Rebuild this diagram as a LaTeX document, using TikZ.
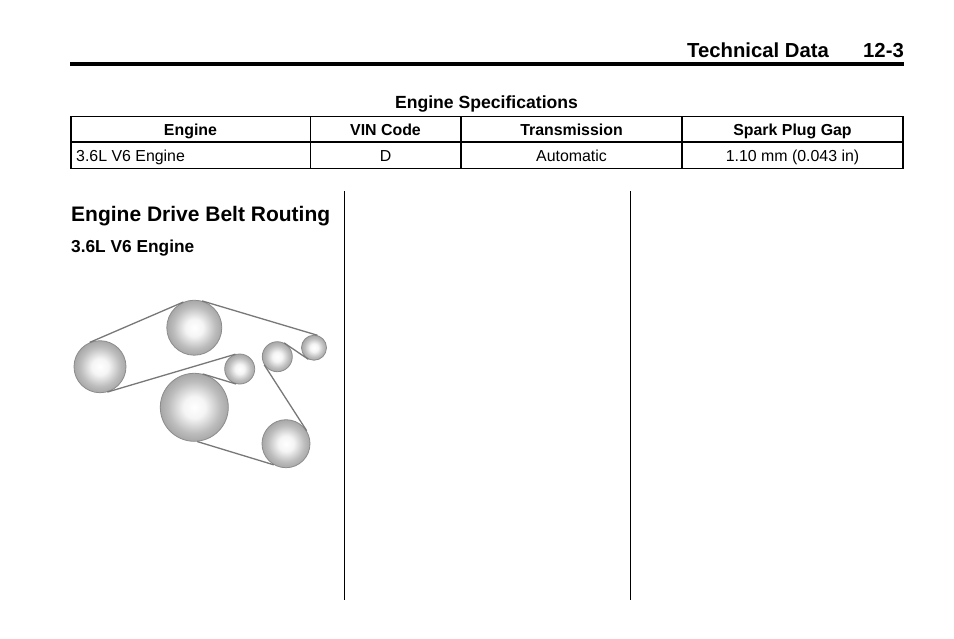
\documentclass[tikz,border=0pt]{standalone}
\usepackage{fontspec}
\setmainfont{Liberation Sans}
\usepackage{tikz}
\usetikzlibrary{positioning}
\definecolor{beltgray}{rgb}{0.47,0.47,0.47}
\pgfdeclareradialshading{pulleyshade}{\pgfpointorigin}{
  color(0bp)=(white); color(8bp)=(white!96!black); color(19bp)=(white!74!black);
  color(29bp)=(white!60!black); color(35.4bp)=(white!50!black); color(100bp)=(white!50!black)}
\tikzset{
  pulley/.style={circle, draw=white!55!black, line width=0.8pt, inner sep=0pt,
    minimum size=#1, shading=pulleyshade},
  belt/.style={draw=beltgray, line width=1.3pt},
  cell/.style={inner sep=0pt, font=\fontsize{15.9}{18}\selectfont, anchor=base},
  cellhead/.style={cell, font=\fontsize{15.9}{18}\selectfont\bfseries},
}

\begin{document}
\begin{tikzpicture}[x=1pt, y=-1pt]
  \path[use as bounding box, fill=white] (0, 0) rectangle (954, 638);

  % running head
  \node[inner sep=0pt, anchor=base west, font=\fontsize{20.3}{24}\selectfont\bfseries] (headtitle) at (687, 57.5) {Technical Data};
  \node[inner sep=0pt, anchor=base east, font=\fontsize{20.3}{24}\selectfont\bfseries] (headpage) at (904, 57.5) {12-3};
  \fill (70, 62) rectangle (904, 66);

  % spec table
  \node[cell, font=\fontsize{17.6}{20}\selectfont\bfseries] (tabletitle) at (486.5, 108) {Engine Specifications};
  \draw[line width=1.8pt] (71, 116.5) rectangle (903, 168.5);
  \draw[line width=1.8pt] (71, 142) -- (903, 142);
  \foreach \i in {310.5, 461, 682}
  \draw[line width=1.8pt] (\i, 116.5) -- (\i, 168.5);

  \node[cellhead] (headengine) at (190.5, 135) {Engine};
  \node[cellhead] (headvin) at (385.5, 135) {VIN Code};
  \node[cellhead] (headtrans) at (571.5, 135) {Transmission};
  \node[cellhead] (headgap) at (792.5, 135) {Spark Plug Gap};
  \node[cell, anchor=base west] (rowengine) at (76, 161) {3.6L V6 Engine};
  \node[cell] (rowvin) at (385.5, 161) {D};
  \node[cell] (rowtrans) at (571.5, 161) {Automatic};
  \node[cell] (rowgap) at (792.5, 161) {1.10 mm (0.043 in)};

  % page columns
  \draw[line width=1pt] (344.7, 191) -- (344.7, 600);
  \draw[line width=1pt] (630.5, 191) -- (630.5, 600);

  \node[inner sep=0pt, anchor=base west, font=\fontsize{21}{25}\selectfont\bfseries] (sectitle) at (71, 221) {Engine Drive Belt Routing};
  \node[inner sep=0pt, anchor=base west, font=\fontsize{17.3}{20}\selectfont\bfseries] (subtitle) at (71, 252) {3.6L V6 Engine};

  % pulleys
  \node[pulley=52pt] (crank) at (100, 366.7) {};
  \node[pulley=55pt] (alt) at (194.3, 327.7) {};
  \node[pulley=30pt] (idler) at (239.7, 369) {};
  \node[pulley=68pt] (steer) at (194.3, 407.3) {};
  \node[pulley=48pt] (water) at (286, 443.7) {};
  \node[pulley=30pt] (tens) at (277.3, 356.7) {};
  \node[pulley=25pt] (small) at (314, 347.7) {};

  % belt
  \draw[belt] (crank.113) -- (alt.113);
  \draw[belt] (alt.74) -- (small.74);
  \draw[belt] (small.-116) -- (tens.64);
  \draw[belt] (tens.212) -- (water.32);
  \draw[belt] (water.-120) -- (steer.-85);
  \draw[belt] (steer.76) -- (idler.-104);
  \draw[belt] (idler.106) -- (crank.-74);
\end{tikzpicture}
\end{document}
